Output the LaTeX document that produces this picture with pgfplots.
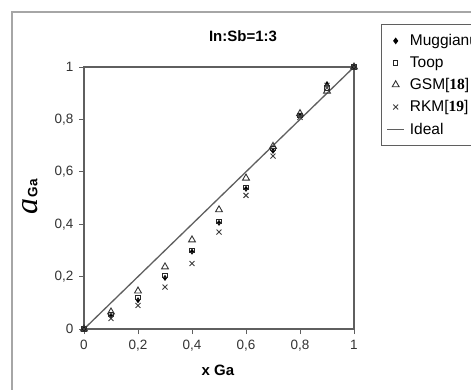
\documentclass[border=0pt]{standalone}
\usepackage{fontspec}
\setmainfont{Liberation Sans}
\newfontfamily\seriffont{Liberation Serif}
\usepackage{pgfplots}
\pgfplotsset{compat=1.18}
\definecolor{axgray}{RGB}{95,95,95}
\begin{document}
\begin{tikzpicture}[x=1pt,y=1pt]
\useasboundingbox (0,0) rectangle (471,389);
\clip (0,0) rectangle (471,389);
\fill[white] (0,0) rectangle (471,389);
\draw[gray!70, line width=1.2pt] (12,-5) rectangle (490,377);
\begin{axis}[
  at={(84pt,60pt)}, anchor=south west,
  scale only axis, width=270pt, height=262pt,
  xmin=0, xmax=1, ymin=0, ymax=1,
  xtick={0,0.2,0.4,0.6,0.8,1}, ytick={0,0.2,0.4,0.6,0.8,1},
  /pgf/number format/use comma,
  /pgf/number format/assume math mode=true,
  tick label style={font=\fontsize{13.5}{15}\selectfont, text=black!80},
  xticklabel style={yshift=-3pt},
  yticklabel style={xshift=-2pt},
  tick align=outside, tick pos=left,
  major tick length=5pt,
  every tick/.style={axgray, line width=1pt},
  axis line style={axgray, line width=1.3pt},
  clip=false,
  legend style={at={(1.1,1.164)}, anchor=north west, draw=axgray, line width=1pt,
    font=\fontsize{15.5}{17}\selectfont, row sep=5.5pt, column sep=3pt,
    inner xsep=5pt, inner ysep=8pt, text width=95pt},
  legend cell align=left,
]
\addplot[only marks, mark=diamond*, mark size=2.6pt, black, fill=black] coordinates {
(0,0) (0.1,0.05) (0.2,0.11) (0.3,0.195) (0.4,0.295) (0.5,0.405) (0.6,0.535) (0.7,0.68) (0.8,0.815) (0.9,0.935) (1,1)};
\addlegendentry{Muggianu}
\addplot[only marks, mark=square, mark size=2.2pt, black!85, line width=0.9pt] coordinates {
(0,0) (0.1,0.055) (0.2,0.12) (0.3,0.205) (0.4,0.30) (0.5,0.41) (0.6,0.54) (0.7,0.69) (0.8,0.815) (0.9,0.92) (1,1)};
\addlegendentry{Toop}
\addplot[only marks, mark=triangle, mark size=4pt, black!80, line width=0.9pt] coordinates {
(0,0) (0.1,0.065) (0.2,0.145) (0.3,0.237) (0.4,0.34) (0.5,0.455) (0.6,0.576) (0.7,0.697) (0.8,0.822) (0.9,0.908) (1,1)};
\addlegendentry{GSM[{\seriffont\bfseries 18}]}
\addplot[only marks, mark=x, mark size=3.5pt, black!75, line width=0.9pt] coordinates {
(0,0) (0.1,0.04) (0.2,0.09) (0.3,0.16) (0.4,0.25) (0.5,0.37) (0.6,0.51) (0.7,0.66) (0.8,0.808) (0.9,0.93) (1,1)};
\addlegendentry{RKM[{\seriffont\bfseries 19}]}
\addplot[no marks, axgray, line width=1.3pt] coordinates {(0,0) (1,1)};
\addlegendentry{Ideal}
\end{axis}
\node[font=\fontsize{15}{17}\selectfont\bfseries] at (243,353) {In:Sb=1:3};
\node[font=\fontsize{15}{17}\selectfont\bfseries] at (218,19) {x Ga};
\node[rotate=90] at (30,192) {{\seriffont\itshape\fontsize{32}{34}\selectfont a}\,{\fontsize{13.5}{15}\selectfont\bfseries Ga}};
\end{tikzpicture}
\end{document}
